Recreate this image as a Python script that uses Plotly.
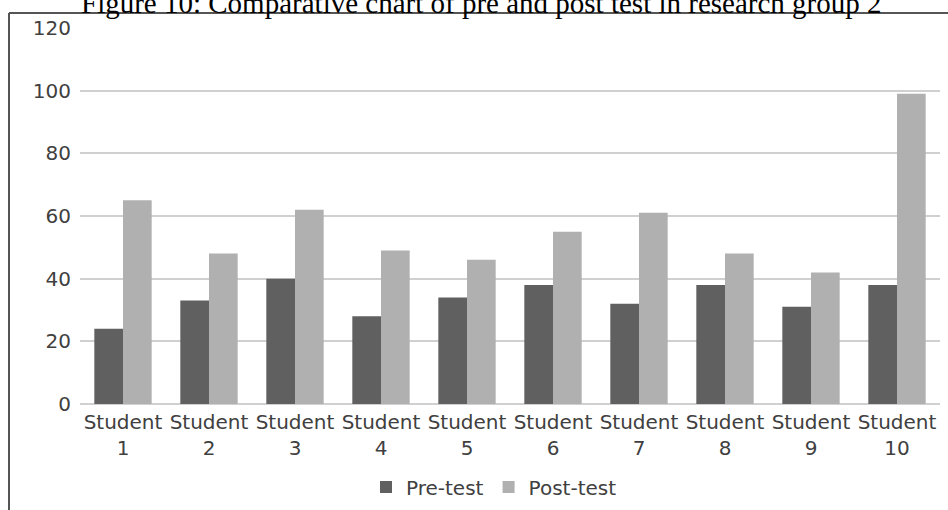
import plotly.graph_objects as go

categories = ["Student<br>1", "Student<br>2", "Student<br>3", "Student<br>4", "Student<br>5",
              "Student<br>6", "Student<br>7", "Student<br>8", "Student<br>9", "Student<br>10"]
pre_test = [24, 33, 40, 28, 34, 38, 32, 38, 31, 38]
post_test = [65, 48, 62, 49, 46, 55, 61, 48, 42, 99]
y_ticks = [0, 20, 40, 60, 80, 100, 120]
title_text = "Figure 10: Comparative chart of pre and post test in research group 2"

W, H = 948, 510
L, R, T, B = 80, 8, 28, 106

fig = go.Figure()
fig.add_trace(go.Bar(x=categories, y=pre_test, name="Pre-test",
                     marker=dict(color="#606060", line=dict(width=0))))
fig.add_trace(go.Bar(x=categories, y=post_test, name="Post-test",
                     marker=dict(color="#b0b0b0", line=dict(width=0))))

def px_to_paper_x(px):
    return (px - L) / (W - L - R)

def px_to_paper_y(py):
    return (H - B - py) / (H - T - B)

fig.update_layout(
    width=W, height=H,
    margin=dict(l=L, r=R, t=T, b=B, autoexpand=False),
    paper_bgcolor="white", plot_bgcolor="white",
    barmode="group", bargap=0.333, bargroupgap=0,
    font=dict(family="DejaVu Sans", size=20, color="#404040"),
    showlegend=True,
    legend=dict(orientation="h", x=px_to_paper_x(366), xanchor="left",
                y=px_to_paper_y(487), yanchor="middle",
                font=dict(size=20, color="#404040"),
                itemwidth=30, tracegroupgap=0),
    xaxis=dict(showgrid=False, showline=False, ticks="", tickfont=dict(size=20),
               ticklabelstandoff=4, fixedrange=True),
    yaxis=dict(range=[0, 120], tickvals=y_ticks, showgrid=True,
               gridcolor="#d0d0d0", gridwidth=2, zeroline=True,
               zerolinecolor="#d0d0d0", zerolinewidth=2, showline=False,
               ticks="", ticklabelstandoff=8, tickfont=dict(size=20),
               fixedrange=True),
)

# decorative frame (figure border) and caption
fig.add_shape(type="line", xref="paper", yref="paper",
              x0=px_to_paper_x(9), x1=px_to_paper_x(960),
              y0=px_to_paper_y(13), y1=px_to_paper_y(13),
              line=dict(color="#555555", width=2))
fig.add_shape(type="line", xref="paper", yref="paper",
              x0=px_to_paper_x(9), x1=px_to_paper_x(9),
              y0=px_to_paper_y(13), y1=px_to_paper_y(520),
              line=dict(color="#555555", width=2))
fig.add_annotation(text=title_text, xref="paper", yref="paper",
                   x=px_to_paper_x(481), y=px_to_paper_y(21),
                   xanchor="center", yanchor="bottom", showarrow=False,
                   font=dict(family="Liberation Serif, Times New Roman", size=29, color="black"))

fig.write_html("out.html", config={"displayModeBar": False},
               post_script="document.body.style.margin='0';document.body.style.overflow='hidden';")
